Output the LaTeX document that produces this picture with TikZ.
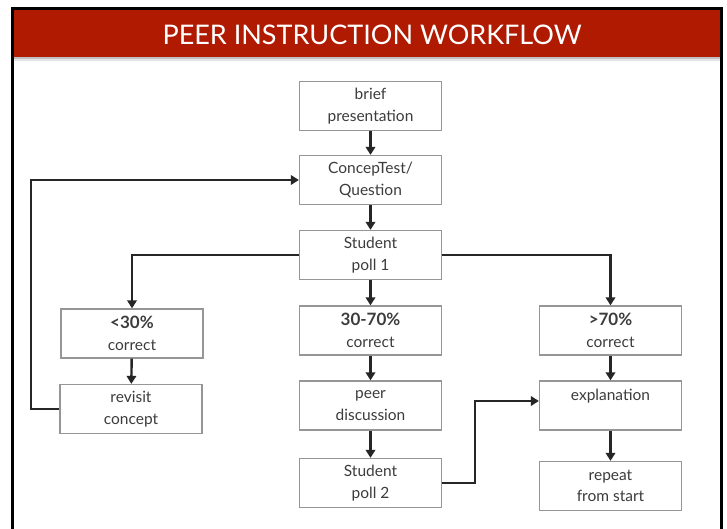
\documentclass[tikz,border=0pt]{standalone}
\usepackage{fontspec}
\setmainfont{Lato}
\usetikzlibrary{arrows.meta}
\definecolor{bandred}{RGB}{176,26,0}
\definecolor{boxgray}{RGB}{150,150,150}
\definecolor{txtgray}{RGB}{60,60,60}
\newcommand{\pct}[1]{{\fontsize{17}{21.5}\selectfont\bfseries #1}}
\tikzset{
  box/.style={draw=boxgray, line width=1.3pt, fill=white, minimum width=142pt, minimum height=49pt,
    inner sep=0pt, align=center, text=txtgray, font=\fontsize{15.5}{21.5}\selectfont},
  arr/.style={line width=2.4pt, draw=black!85, -{Triangle[length=8pt,width=9.5pt]}},
  frame/.style={line width=3pt, draw=black}
}
\begin{document}
\begin{tikzpicture}[x=1pt,y=-1pt]
\useasboundingbox (0,0) rectangle (727,529);
\fill[white] (0,0) rectangle (727,529);
% title band
\fill[bandred] (12,9) rectangle (721,57);
\fill[black!25] (12,57) rectangle (721,59.5);
\fill[black!10] (12,59.5) rectangle (721,61);
\node[text=white, font=\fontsize{27}{30}\selectfont] (title) at (372,35) {PEER INSTRUCTION WORKFLOW};
% frame
\draw[frame] (12,529) -- (12,9) -- (721,9) -- (721,529);
% boxes
\node[box] (brief) at (370.5,106) {brief\\presentation};
\node[box] (concept) at (370.5,180) {ConcepTest/\\Question};
\node[box] (poll1) at (370.5,255) {Student\\poll 1};
\node[box] (low) at (132,333.5) {\pct{<30\%}\\correct};
\node[box] (mid) at (370.5,330.5) {\pct{30-70\%}\\correct};
\node[box] (high) at (610.5,330.5) {\pct{>70\%}\\correct};
\node[box] (revisit) at (131,409) {revisit\\concept};
\node[box] (peer) at (370.5,405.5) {peer\\discussion};
\node[box] (expl) at (610.5,405.5) {explanation\\\phantom{x}};
\node[box] (poll2) at (370.5,483) {Student\\poll 2};
\node[box] (rep) at (610.5,486) {repeat\\from start};
% helper coordinates
\coordinate (lp) at (31,0);
\coordinate (jp) at (475,0);
% connectors
\draw[arr] (brief) -- (concept);
\draw[arr] (concept) -- (poll1);
\draw[arr] (poll1) -- (mid);
\draw[arr] (poll1.west) -| (low.north);
\draw[arr] (poll1.east) -| (high.north);
\draw[arr] (low) -- (revisit);
\draw[arr] (revisit.west) -- (revisit.west -| lp) |- (concept.west);
\draw[arr] (mid) -- (peer);
\draw[arr] (peer) -- (poll2);
\draw[arr] (high) -- (expl);
\draw[arr] (expl) -- (rep);
\draw[arr] (poll2.east) -- (poll2.east -| jp) |- ([yshift=4.5pt]expl.west);
\end{tikzpicture}
\end{document}
